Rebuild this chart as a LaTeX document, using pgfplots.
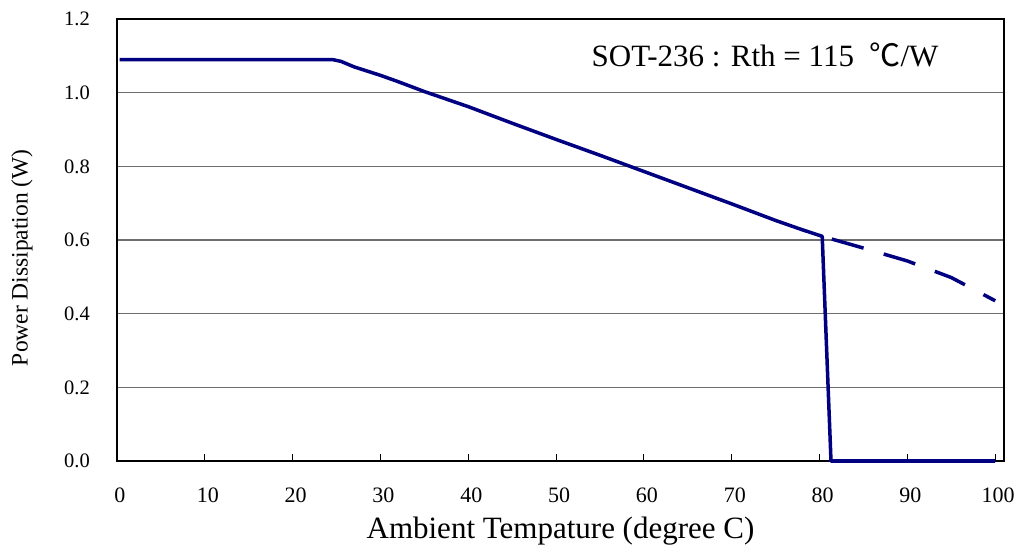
\documentclass[border=0pt]{standalone}
\usepackage{fontspec}
\setmainfont{Liberation Serif}
\newfontfamily\cjk{Noto Sans CJK SC}
\usepackage{pgfplots}
\pgfplotsset{compat=1.18}
\definecolor{navyline}{RGB}{0,0,128}
\definecolor{gridgray}{RGB}{110,110,110}
\begin{document}
\begin{tikzpicture}
\begin{axis}[
  scale only axis,
  width=887bp, height=442bp,
  xmin=0, xmax=101, ymin=0, ymax=1.2,
  xtick={0,10,...,100},
  ytick={0,0.2,0.4,0.6,0.8,1.0,1.2},
  xtick pos=bottom, ytick pos=left,
  tick align=inside,
  major tick length=7bp,
  ytick style={draw=none},
  xtick style={black, line width=1bp},
  ymajorgrids=true,
  major grid style={gridgray, line width=1.2bp},
  axis line style={black, line width=1.6bp},
  /pgf/number format/assume math mode=true,
  yticklabel style={/pgf/number format/fixed, /pgf/number format/fixed zerofill, /pgf/number format/precision=1},
  yticklabel style={anchor=east, inner sep=0pt, xshift=-27bp, font=\fontsize{20.5bp}{24bp}\selectfont},
  xticklabel style={anchor=base, inner sep=0pt, yshift=-41bp, xshift=3bp, font=\fontsize{22bp}{26bp}\selectfont},
  xlabel={Ambient Tempature (degree C)},
  ylabel={Power Dissipation (W)},
  xlabel style={at={(rel axis cs:0.5,0)}, anchor=base, inner sep=0pt, yshift=-77bp, font=\fontsize{31bp}{36bp}\selectfont},
  ylabel style={at={(rel axis cs:0,0.46)}, anchor=center, inner sep=0pt, yshift=95bp, font=\fontsize{23.5bp}{28bp}\selectfont},
  clip=false,
]
\addplot[navyline, line width=3.5bp, line join=round] coordinates {
(0.3,1.09) (24.5,1.09) (25.5,1.085) (27,1.07) (30,1.047) (32,1.03) (35,1.003)
(40,0.962) (45,0.917) (50,0.873) (55,0.83) (60,0.786) (65,0.742) (70,0.698)
(75,0.653) (78,0.628) (80.3,0.61) (81.3,0.0) (100,0.0)
};
\addplot[navyline, line width=3.5bp, dash pattern=on 33bp off 21bp, dash phase=44bp] coordinates {
(80.3,0.61) (85,0.578) (90,0.543) (95,0.498) (100,0.435)
};
\node[anchor=base, inner sep=0pt, font=\fontsize{31bp}{36bp}\selectfont] at (rel axis cs:0.7306,0.892) {SOT-236 : Rth = 115\ \ {\cjk ℃}/W};
\coordinate (A) at (rel axis cs:0,0);
\coordinate (B) at (rel axis cs:1,1);
\end{axis}
\path (A) +(-117bp,-93bp) (B) +(14bp,19bp);
\end{tikzpicture}
\end{document}
